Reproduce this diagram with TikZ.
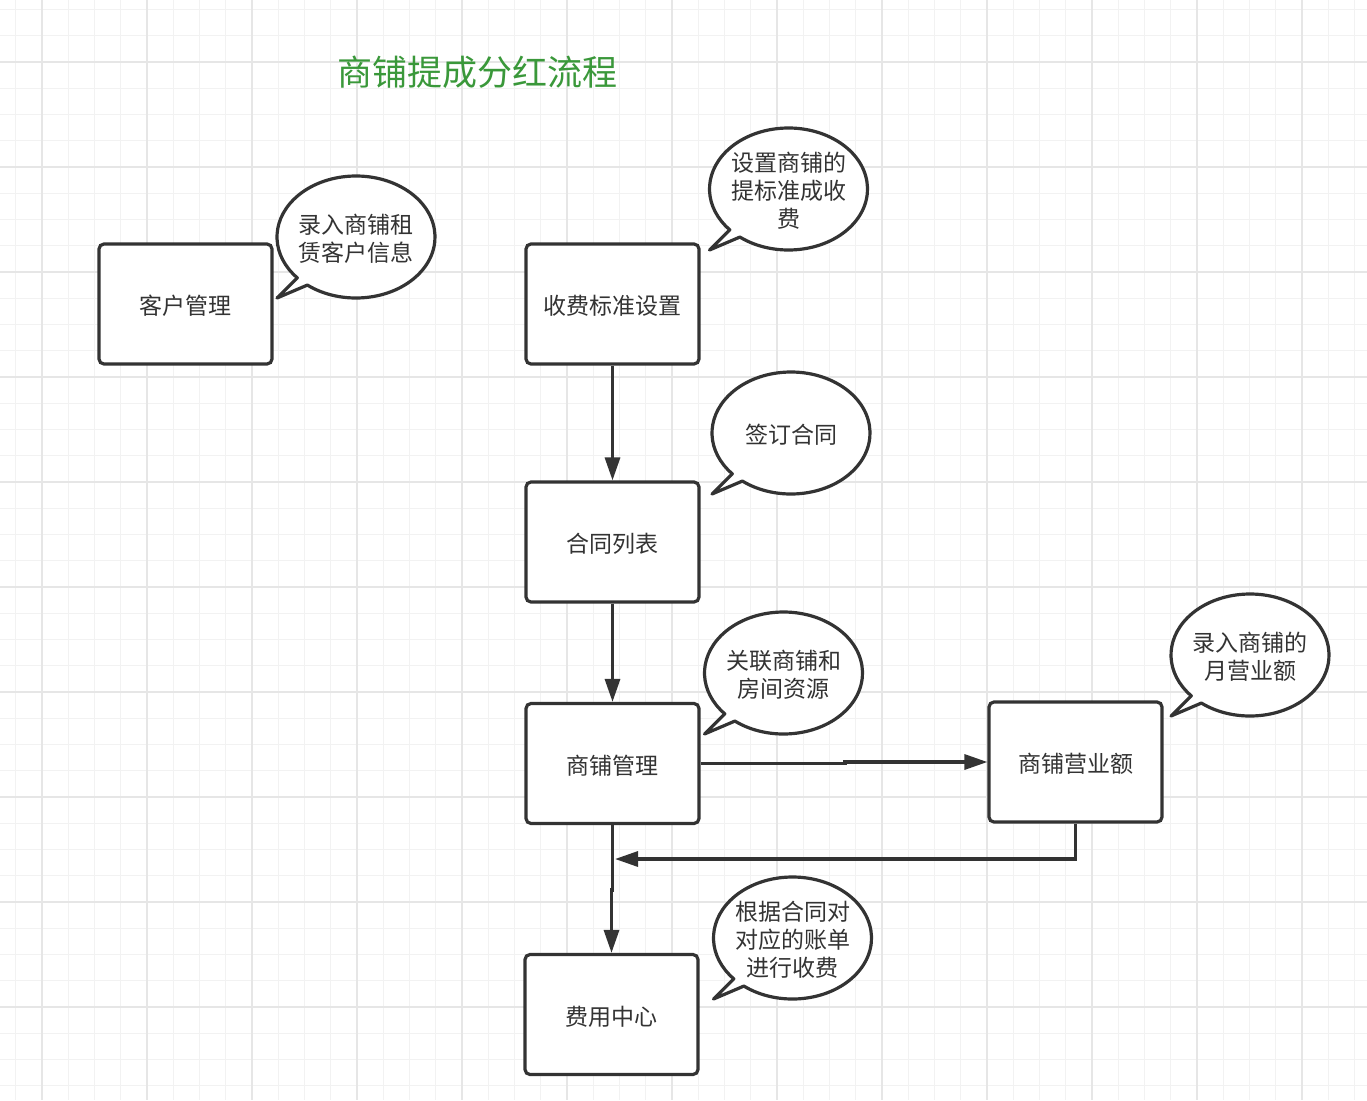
\documentclass[tikz,border=0pt]{standalone}
\usepackage{fontspec}
\setmainfont{Noto Sans CJK SC}
\usetikzlibrary{arrows.meta,calc}
\definecolor{ink}{HTML}{333333}
\definecolor{titlegreen}{RGB}{58,152,58}
\definecolor{gridminor}{HTML}{F2F2F2}
\definecolor{gridmajor}{HTML}{E6E6E6}
\tikzset{
  box/.style={draw=ink, line width=3.2pt, rounded corners=5pt, minimum width=173pt, minimum height=120pt, inner sep=0pt, font=\fontsize{23}{28}\selectfont, text=ink, fill=white},
  boxtext/.style={inner sep=0pt, font=\fontsize{23}{28}\selectfont, text=ink},
  bubbleline/.style={draw=ink, line width=3.2pt, fill=white, line join=round},
  bubbletext/.style={align=center, inner sep=0pt, font=\fontsize{23}{28}\selectfont, text=ink},
  conn/.style={draw=ink, line width=3.2pt, -{Triangle[length=23pt,width=15pt]}},
  minorline/.style={draw=gridminor, line width=1.2pt},
  majorline/.style={draw=gridmajor, line width=2pt}
}
\newcommand\bubble[4]{%
  \draw[bubbleline] (#2,#3) ++(232:79 and 61) arc[start angle=232,end angle=582,x radius=79,y radius=61] -- ($(#2,#3)+(-79,-61)$) -- cycle;
  \node[bubbletext] (#1) at ($(#2,#3)+(0,-2)$) {#4};
}
\newcommand\flowbox[4]{%
  \node[box] (#1) at (#2,#3) {};
  \node[boxtext] (#1t) at ($(#2,#3)+(0,-2)$) {#4};
}
\begin{document}
\begin{tikzpicture}[x=1pt,y=1pt]
\useasboundingbox (0,0) rectangle (1367,-1100);
\fill[white] (0,0) rectangle (1367,-1100);
\begin{scope}
\clip (0,0) rectangle (1367,-1100);
\foreach \i in {-1,...,51} {\pgfmathsetmacro\gx{42+26.25*\i}\draw[minorline] (\gx,0) -- (\gx,-1100);}
\foreach \i in {-2,...,40} {\pgfmathsetmacro\gy{-(62+26.25*\i)}\draw[minorline] (0,\gy) -- (1367,\gy);}
\foreach \i in {0,...,12} {\pgfmathsetmacro\gx{42+105*\i}\draw[majorline] (\gx,0) -- (\gx,-1100);}
\foreach \i in {0,...,10} {\pgfmathsetmacro\gy{-(62+105*\i)}\draw[majorline] (0,\gy) -- (1367,\gy);}
\end{scope}

\node[text=titlegreen, font=\fontsize{35}{40}\selectfont, inner sep=0pt] (title) at (477.5,-72) {商铺提成分红流程};

\flowbox{kh}{185.5}{-304}{客户管理}
\flowbox{sf}{612.5}{-304}{收费标准设置}
\flowbox{ht}{612.5}{-542}{合同列表}
\flowbox{sp}{612.5}{-763.5}{商铺管理}
\flowbox{fy}{611.5}{-1014.5}{费用中心}
\flowbox{yy}{1075.5}{-762}{商铺营业额}

\bubble{c1}{356}{-237}{录入商铺租\\赁客户信息}
\bubble{c2}{788.5}{-189}{设置商铺的\\提标准成收\\费}
\bubble{c3}{791}{-433}{签订合同}
\bubble{c4}{783.5}{-673}{关联商铺和\\房间资源}
\bubble{c5}{1250}{-655}{录入商铺的\\月营业额}
\bubble{c6}{792.5}{-938}{根据合同对\\对应的账单\\进行收费}

\coordinate (m1) at (845,-763);
\coordinate (j1) at (615,-859);
\coordinate (m2) at (612,-890);

\draw[conn] (sf.south) -- (ht.north);
\draw[conn] (ht.south) -- (sp.north);
\draw[conn] (sp.east) -- (sp.east -| m1) |- (yy.west);
\draw[conn] (yy.south) |- (j1);
\draw[conn] (sp.south) -- (sp.south |- m2) -| (fy.north);
\end{tikzpicture}
\end{document}
